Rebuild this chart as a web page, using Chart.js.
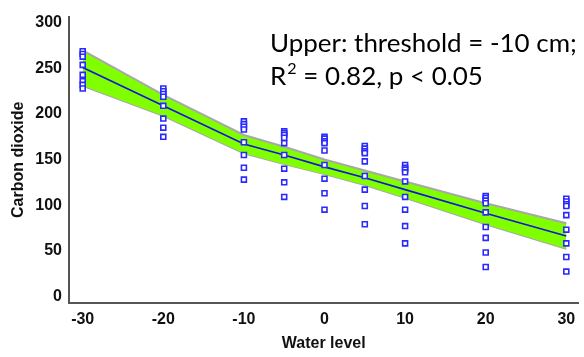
<!DOCTYPE html>
<html>
<head>
<meta charset="utf-8">
<script src="https://cdn.jsdelivr.net/npm/chart.js@4/dist/chart.umd.min.js"></script>
<style>
  html, body { margin: 0; padding: 0; background: #fff; }
  canvas { display: block; }
</style>
</head>
<body>
<canvas id="c" width="584" height="357"></canvas>
<script>
// Water level treatments (cm)
const waterLevels = [-30, -20, -10, -5, 0, 5, 10, 20, 30];

// Observed carbon dioxide at each water level
const co2Observed = [
  [269, 266, 263, 254, 243, 236, 232, 228],
  [228, 225, 222, 219, 209, 195, 185, 175],
  [192, 189, 186, 183, 169, 155, 141, 128],
  [181, 179, 177, 174, 168, 155, 140, 125, 109],
  [175, 173, 170, 168, 160, 144, 129, 113, 95],
  [165, 162, 159, 157, 148, 132, 117, 99, 79],
  [144, 141, 139, 136, 126, 109, 95, 77, 58],
  [110, 108, 105, 102, 92, 76, 64, 48, 32],
  [107, 104, 101, 99, 89, 73, 58, 43, 27]
];

// Fitted threshold model and its confidence band
const co2Fitted = [251, 209, 167, 155, 142, 130, 117, 91, 66];
const bandUpper = [270, 221, 177, 164, 150, 138, 126, 102, 80];
const bandLower = [231, 198, 157, 145, 134, 122, 108, 79, 52];

// Axis tick labels
const xTicks = [-30, -20, -10, 0, 10, 20, 30];
const yTicks = [0, 50, 100, 150, 200, 250, 300];

const toXY = ys => waterLevels.map((x, i) => ({ x: x, y: ys[i] }));
const observedPoints = [];
waterLevels.forEach((x, i) => co2Observed[i].forEach(v => observedPoints.push({ x: x, y: v })));

const annotationText = {
  id: 'annotationText',
  afterDraw(chart) {
    const ctx = chart.ctx;
    ctx.save();
    ctx.fillStyle = '#000';
    ctx.textBaseline = 'alphabetic';
    ctx.textAlign = 'left';
    const line1 = 'Upper: threshold = -10 cm;';
    ctx.font = '24px Lato';
    const scaleF = 307 / ctx.measureText(line1).width;
    const size = 24 * scaleF;
    ctx.font = size + 'px Lato';
    const x0 = 270;
    ctx.fillText(line1, x0, 52);
    let x = x0;
    ctx.fillText('R', x, 85);
    x += ctx.measureText('R').width;
    ctx.font = (size * 0.62) + 'px Lato';
    ctx.fillText('2', x + 1, 74);
    x += ctx.measureText('2').width + 1;
    ctx.font = size + 'px Lato';
    ctx.fillText(' = 0.82, p < 0.05', x, 85);
    ctx.restore();
  }
};

const tickFont = { family: 'Liberation Sans, Arial, sans-serif', size: 16, weight: 'bold' };

new Chart(document.getElementById('c'), {
  type: 'scatter',
  data: {
    datasets: [
      {
        label: 'Observed',
        data: observedPoints,
        pointStyle: 'rect',
        pointRadius: 3.5,
        pointBorderWidth: 1.6,
        pointBorderColor: '#2a2aff',
        pointBackgroundColor: '#ffffff',
        showLine: false,
        order: 0
      },
      {
        label: 'Fitted',
        data: toXY(co2Fitted),
        showLine: true,
        borderColor: '#1414d8',
        borderWidth: 1.6,
        pointRadius: 0,
        fill: false,
        order: 1
      },
      {
        label: 'Upper band',
        data: toXY(bandUpper),
        showLine: true,
        borderColor: '#a8a8a8',
        borderWidth: 2,
        backgroundColor: '#80ff00',
        pointRadius: 0,
        fill: '+1',
        order: 2
      },
      {
        label: 'Lower band',
        data: toXY(bandLower),
        showLine: true,
        borderColor: '#a8a8a8',
        borderWidth: 2,
        pointRadius: 0,
        fill: false,
        order: 3
      }
    ]
  },
  options: {
    responsive: false,
    animation: false,
    devicePixelRatio: 1,
    layout: { padding: { top: 10, right: 0, left: 0, bottom: 0 } },
    plugins: {
      legend: { display: false },
      tooltip: { enabled: false }
    },
    scales: {
      x: {
        type: 'linear',
        min: -31.7,
        max: 31.5,
        afterBuildTicks: s => { s.ticks = xTicks.map(v => ({ value: v })); },
        afterFit: s => { s.height = 54; },
        grid: { display: false, drawTicks: false },
        border: { display: true, color: '#555', width: 2 },
        ticks: { color: '#111', font: tickFont, padding: 7, maxRotation: 0 },
        title: { display: true, text: 'Water level', color: '#111', font: tickFont, padding: { top: 0, bottom: 4 } }
      },
      y: {
        type: 'linear',
        min: -7.5,
        max: 307,
        afterBuildTicks: s => { s.ticks = yTicks.map(v => ({ value: v })); },
        afterFit: s => { s.width = 69; },
        grid: { display: false, drawTicks: false },
        border: { display: true, color: '#555', width: 2 },
        ticks: { color: '#111', font: tickFont, padding: 7 },
        title: { display: true, text: 'Carbon dioxide', color: '#111', font: tickFont, padding: { top: 9, bottom: 0 } }
      }
    }
  },
  plugins: [annotationText]
});
</script>
</body>
</html>
